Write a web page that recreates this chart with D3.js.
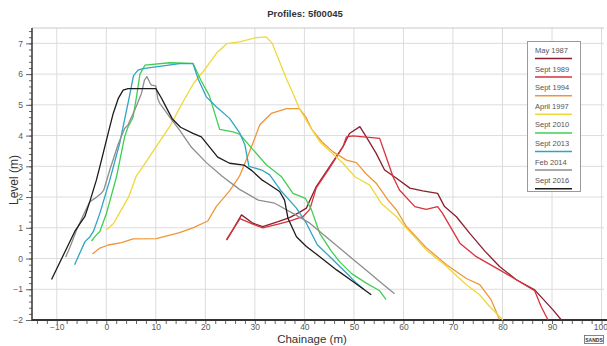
<!DOCTYPE html>
<html>
<head>
<meta charset="utf-8">
<script src="https://cdn.jsdelivr.net/npm/d3@7"></script>
<style>
  body { margin: 0; background: #fff; }
  svg { display: block; font-family: "Liberation Sans", "Open Sans", sans-serif; }
</style>
</head>
<body>
<svg id="chart" width="607" height="346"></svg>
<script>
// profile surveys, [chainage, level]
const may1987 = [[24.3,0.6],[25.6,0.95],[27.3,1.42],[29.6,1.15],[31.6,1.04],[34.7,1.2],[37,1.33],[39,1.5],[40.4,1.64],[42.4,2.34],[45.1,2.99],[47.8,3.64],[49.1,4.07],[51.2,4.29],[52.5,3.96],[54.5,3.42],[56.2,2.88],[58.6,2.61],[61.3,2.29],[63.9,2.2],[66.9,2.12],[68.3,1.69],[70.7,1.36],[73.4,0.82],[76.4,0.25],[79.4,-0.26],[82.8,-0.69],[86.5,-1.02],[90.2,-1.67],[91.9,-2]];
const sept1989 = [[24.3,0.62],[25.4,0.9],[27,1.3],[29.6,1.12],[31.6,1.0],[34.7,1.12],[37,1.22],[39.7,1.36],[41.1,1.6],[42.4,2.3],[45.1,2.95],[47.8,3.64],[48.5,3.96],[49.8,3.99],[55.2,3.91],[56.5,3.31],[57.9,2.66],[59.2,2.23],[62.3,1.69],[64.6,1.6],[66.9,1.69],[67.9,1.47],[71.4,0.5],[74.7,0.06],[79.4,-0.37],[82.8,-0.69],[86.5,-1.05],[87.8,-1.56],[89.2,-2]];
const sept1994 = [[-2.8,0.15],[-1.3,0.34],[0.4,0.44],[3.07,0.52],[5.4,0.64],[10.1,0.65],[14.8,0.84],[17.5,1.0],[20.5,1.22],[22.2,1.69],[24.9,2.2],[26.9,2.68],[28.5,3.3],[29.6,3.75],[31,4.35],[33.3,4.72],[36.4,4.88],[39,4.88],[40.3,4.6],[41.5,4.2],[43.5,3.8],[45.8,3.47],[48.5,3.2],[50.5,3.12],[52.5,2.75],[54.5,2.45],[56.9,1.9],[58.6,1.58],[60.6,1.04],[64.6,0.35],[68.7,-0.2],[72.7,-0.65],[75.4,-0.85],[77.7,-1.34],[79.4,-1.98]];
const april1997 = [[0.04,0.93],[1.5,1.15],[3.4,1.69],[4.5,2.0],[6.1,2.7],[7.4,2.99],[9.5,3.5],[12.8,4.29],[15.5,5.1],[17.7,5.72],[19.9,6.15],[22.2,6.67],[24.3,6.99],[26.9,7.05],[30.3,7.19],[32.3,7.21],[33.5,7.0],[35,6.4],[36.5,5.8],[37.4,5.48],[39,4.88],[41.1,4.3],[43.1,3.8],[45.8,3.4],[47.8,3.1],[50.2,2.66],[53.2,2.39],[55.5,1.8],[58.6,1.36],[60.6,0.99],[64.6,0.28],[68.7,-0.26],[72.7,-0.85],[75.4,-1.18],[77.4,-1.56],[80.1,-2.0]];
const sept2010 = [[-3,0.57],[-2,0.77],[-1.3,0.88],[0.04,1.47],[2.06,2.66],[3.7,3.96],[4.4,4.29],[5.1,4.5],[5.4,4.6],[6.1,5.26],[6.8,6.0],[7.8,6.29],[12.8,6.37],[17.5,6.35],[19.1,5.8],[20.8,5.3],[22.9,4.2],[25.6,4.12],[26.9,4.05],[29.3,3.6],[32.3,3.05],[35.4,2.66],[37.7,2.12],[40.2,1.96],[41.4,1.6],[43.1,0.82],[45.4,0.25],[47.1,-0.1],[49.6,-0.5],[52.5,-0.8],[55.2,-1.05],[56.5,-1.34]];
const sept2013 = [[-6.4,-0.2],[-4.3,0.55],[-3.3,0.71],[-2.6,0.88],[-1.3,1.47],[0.7,2.55],[2.7,3.75],[4.7,5.3],[5.5,5.95],[6.4,6.13],[7.4,6.18],[14.8,6.34],[17.5,6.34],[18.5,5.86],[20.2,5.26],[22.2,4.94],[24.9,4.56],[26.9,4.1],[28,3.69],[28.8,3.0],[31.4,2.88],[33,2.72],[35.4,2.18],[38.4,1.64],[40.4,1.15],[42.6,0.45],[45.4,0.02],[48.5,-0.47],[50.5,-0.8],[52,-1.0]];
const feb2014 = [[-8.2,0.05],[-7.4,0.34],[-6,0.93],[-4.3,1.53],[-3.3,1.85],[-2,1.99],[-1,2.12],[-0.5,2.23],[0.7,2.88],[2.4,3.72],[3.7,4.23],[4.4,4.35],[5.75,4.83],[7.1,5.37],[7.7,5.8],[8.2,5.92],[8.8,5.72],[9.1,5.64],[10,5.62],[10.4,5.2],[10.8,5.05],[12.5,4.67],[14.8,4.18],[17.2,3.62],[20.2,3.12],[23.4,2.68],[26.9,2.25],[30.7,1.9],[34,1.8],[37.7,1.47],[41.1,1.15],[45.4,0.57],[49.8,-0.02],[52.5,-0.38],[55.2,-0.75],[58.2,-1.15]];
const sept2016 = [[-11.05,-0.68],[-6.36,0.88],[-5.35,1.13],[-4.34,1.36],[-3.33,1.85],[-2,2.55],[-0.97,3.2],[0.37,4.07],[1.4,4.72],[2.4,5.2],[3.4,5.48],[4.4,5.53],[10,5.53],[11.1,5.23],[12,4.95],[13.3,4.55],[15,4.27],[17.5,4.07],[19.2,3.96],[20.5,3.7],[22.5,3.3],[24.9,3.1],[27.8,3.04],[29.4,2.86],[31.5,2.55],[32.5,2.45],[35,2.18],[36,1.9],[36.7,1.3],[38.4,0.71],[40.4,0.39],[43.1,0.06],[46.5,-0.37],[49.8,-0.75],[53.5,-1.18]];

const seriesNames = ["May 1987", "Sept 1989", "Sept 1994", "April 1997", "Sept 2010", "Sept 2013", "Feb 2014", "Sept 2016"];
const seriesData = [may1987, sept1989, sept1994, april1997, sept2010, sept2013, feb2014, sept2016];
const seriesColors = ["#8b1e2e", "#d8323c", "#ee9639", "#eed83a", "#3fcf50", "#2ea4c6", "#8e8e8e", "#1c1c1c"];

const xTicks = d3.range(-10, 101, 10);
const yTicks = d3.range(-2, 8, 1);

const svg = d3.select("#chart");
const plotLeft = 32, plotRight = 604, plotTop = 28, plotBottom = 320;

const x = d3.scaleLinear().domain([-15, 100.5]).range([plotLeft, plotRight]);
const y = d3.scaleLinear().domain([-2, 7.5]).range([plotBottom, plotTop]);

// grid
svg.append("g").selectAll("line").data(xTicks).join("line")
  .attr("x1", d => x(d)).attr("x2", d => x(d))
  .attr("y1", plotTop).attr("y2", plotBottom)
  .attr("stroke", "#dcdcdc").attr("stroke-width", 1);
svg.append("g").selectAll("line").data(yTicks).join("line")
  .attr("x1", plotLeft).attr("x2", plotRight)
  .attr("y1", d => y(d)).attr("y2", d => y(d))
  .attr("stroke", "#dcdcdc").attr("stroke-width", 1);
svg.append("line").attr("x1", plotLeft).attr("x2", plotRight).attr("y1", plotTop).attr("y2", plotTop)
  .attr("stroke", "#c8c8c8");

// axes
const xAxis = d3.axisBottom(x).tickValues(d3.range(-14, 101, 2)).tickSize(4).tickFormat("");
svg.append("g").attr("transform", `translate(0,${plotBottom})`).call(xAxis)
  .call(g => g.select(".domain").remove())
  .selectAll("line").attr("stroke", "#666");
svg.append("g").attr("transform", `translate(0,${plotBottom})`)
  .call(d3.axisBottom(x).tickValues(xTicks).tickSize(0).tickPadding(4))
  .call(g => g.select(".domain").remove())
  .selectAll("text").attr("font-size", 8.5).attr("fill", "#595959")
  .attr("font-family", "Liberation Sans")
  // last label sits on the window edge, keep it inside
  .filter(d => d === 100).attr("text-anchor", "end").attr("x", 6);

const yAxis = d3.axisLeft(y).tickValues(d3.range(-2, 7.5, 0.2)).tickSize(3).tickFormat("");
svg.append("g").attr("transform", `translate(${plotLeft},0)`).call(yAxis)
  .call(g => g.select(".domain").remove())
  .selectAll("line").attr("stroke", "#666");
svg.append("g").attr("transform", `translate(${plotLeft},0)`)
  .call(d3.axisLeft(y).tickValues(yTicks).tickSize(6).tickPadding(3))
  .call(g => g.select(".domain").remove())
  .call(g => g.selectAll("line").attr("stroke", "#666"))
  .selectAll("text").attr("font-size", 8.5).attr("fill", "#595959")
  .attr("font-family", "Liberation Sans");

svg.append("line").attr("x1", plotLeft).attr("x2", plotLeft).attr("y1", plotTop).attr("y2", plotBottom + 1)
  .attr("stroke", "#333").attr("stroke-width", 1.5);
svg.append("line").attr("x1", plotLeft).attr("x2", plotRight + 3).attr("y1", plotBottom).attr("y2", plotBottom)
  .attr("stroke", "#333").attr("stroke-width", 2);

// profiles
const line = d3.line().x(d => x(d[0])).y(d => y(d[1]));
svg.append("g").selectAll("path").data(seriesData).join("path")
  .attr("d", line)
  .attr("fill", "none")
  .attr("stroke", (d, i) => seriesColors[i])
  .attr("stroke-width", 1.3)
  .attr("stroke-linejoin", "round");

// titles
svg.append("text").attr("x", 305).attr("y", 17).attr("text-anchor", "middle")
  .attr("font-size", 9.5).attr("font-weight", "bold").attr("fill", "#333")
  .text("Profiles: 5f00045");
svg.append("text").attr("x", 312).attr("y", 343).attr("text-anchor", "middle")
  .attr("font-size", 11.5).attr("fill", "#333").text("Chainage (m)");
svg.append("text").attr("transform", "translate(18,180) rotate(-90)").attr("text-anchor", "middle")
  .attr("font-size", 12).attr("fill", "#333").text("Level (m)");

// legend
const legend = svg.append("g");
legend.append("rect").attr("x", 527.5).attr("y", 41.5).attr("width", 53).attr("height", 150)
  .attr("fill", "#fff").attr("stroke", "#9a9a9a");
const item = legend.selectAll("g").data(seriesNames).join("g")
  .attr("transform", (d, i) => `translate(0,${50 + i * 18.6})`);
item.append("text").attr("x", 535).attr("y", 3).attr("font-size", 7.5).attr("fill", "#555")
  .text(d => d);
item.append("line").attr("x1", 535).attr("x2", 572).attr("y1", 8.5).attr("y2", 8.5)
  .attr("stroke", (d, i) => seriesColors[i]).attr("stroke-width", 1.5);

// logo
svg.append("rect").attr("x", 584.5).attr("y", 335.5).attr("width", 19).attr("height", 8)
  .attr("fill", "#fff").attr("stroke", "#666").attr("stroke-width", 0.8);
svg.append("text").attr("x", 594).attr("y", 342).attr("text-anchor", "middle")
  .attr("font-size", 5).attr("font-weight", "bold").attr("fill", "#333").text("SANDS");
</script>
</body>
</html>
